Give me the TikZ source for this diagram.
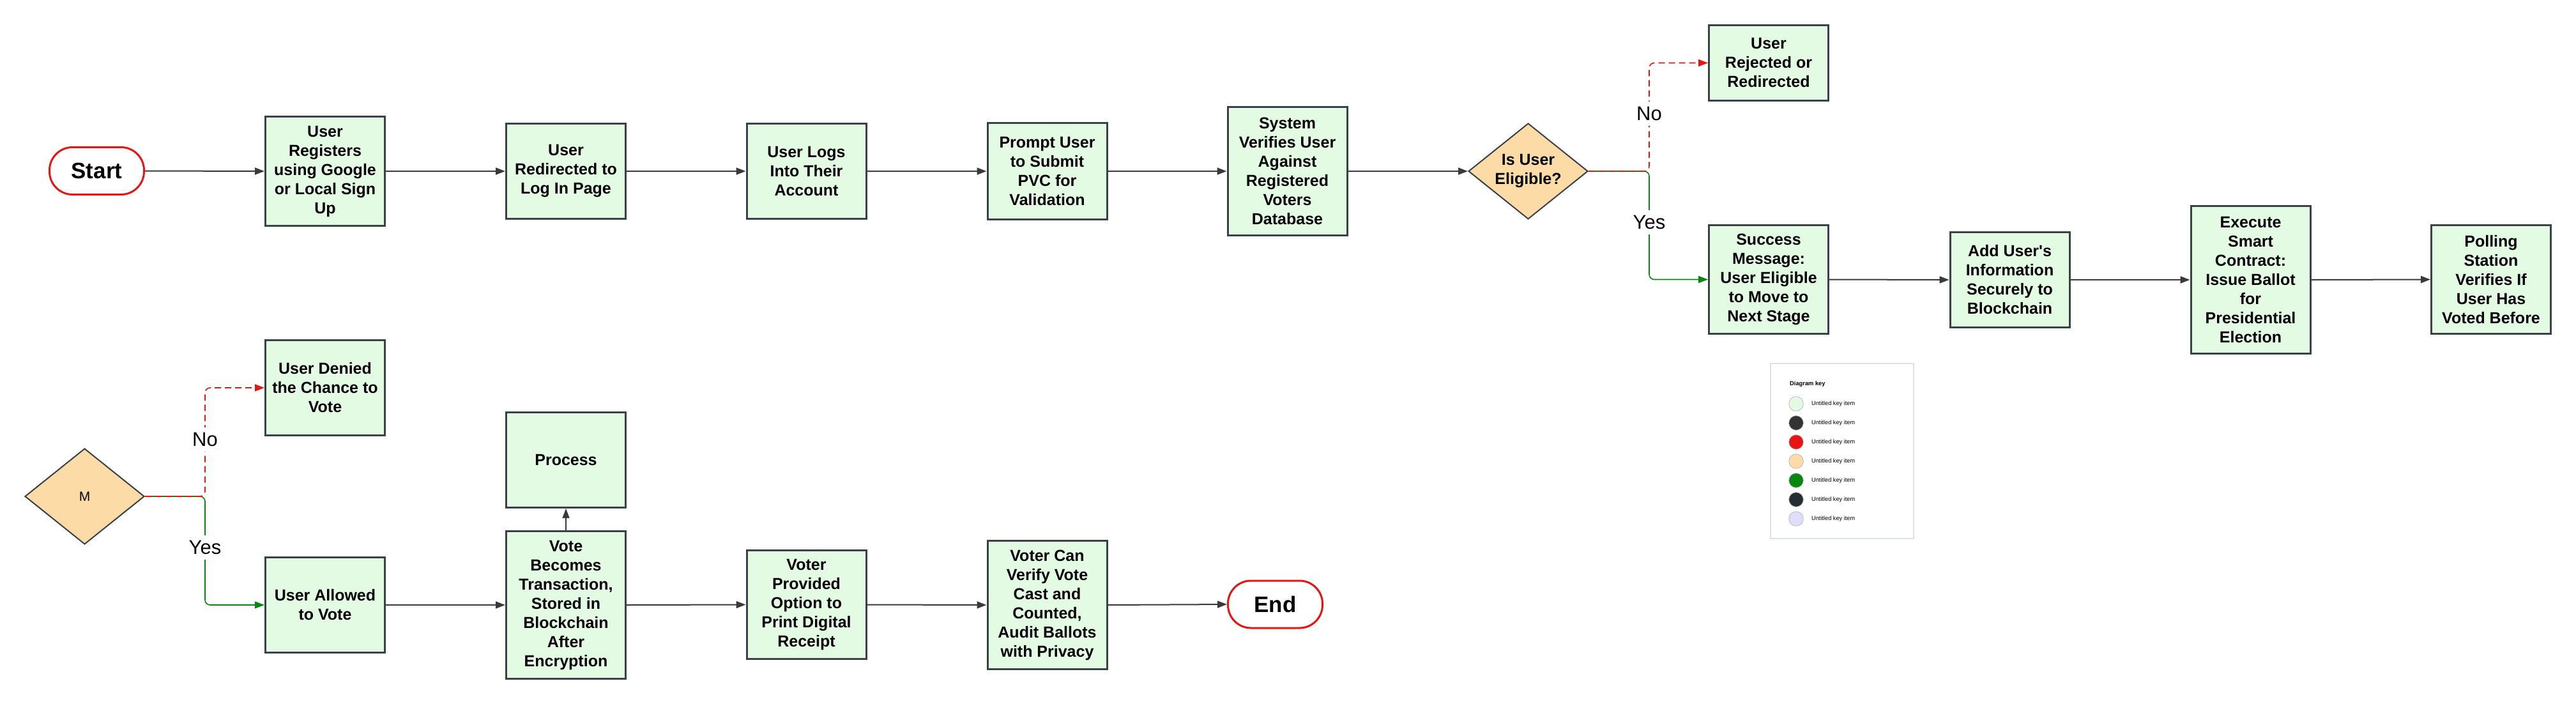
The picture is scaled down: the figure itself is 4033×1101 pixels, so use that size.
\documentclass[tikz,border=0pt]{standalone}
\usepackage{fontspec}
\setmainfont{Liberation Sans}[Ligatures=TeXOff]
\usetikzlibrary{shapes.geometric,arrows.meta}
\definecolor{boxfill}{HTML}{E3FAE3}
\definecolor{boxline}{HTML}{3A414A}
\definecolor{dfill}{HTML}{FDDBA6}
\definecolor{myred}{HTML}{E81313}
\definecolor{mygreen}{HTML}{06870F}
\definecolor{connc}{HTML}{3A3A3A}
\definecolor{keyline}{HTML}{DDE0E6}
\definecolor{kA}{HTML}{E3FAE3}
\definecolor{kB}{HTML}{333333}
\definecolor{kC}{HTML}{E81313}
\definecolor{kD}{HTML}{FDDBA6}
\definecolor{kE}{HTML}{06870F}
\definecolor{kF}{HTML}{282C33}
\definecolor{kG}{HTML}{DEDEFC}
\tikzset{
  box/.style={draw=boxline, line width=3pt, fill=boxfill, minimum width=187pt, inner sep=0pt, align=center, font=\bfseries\fontsize{25}{30}\selectfont},
  term/.style={draw=myred, line width=3pt, fill=white, rounded corners=36pt, minimum width=148pt, minimum height=74pt, inner sep=0pt, font=\bfseries\fontsize{35}{40}\selectfont},
  dia/.style={diamond, draw=boxline, line width=2pt, fill=dfill, minimum width=187pt, minimum height=150pt, inner sep=0pt},
  dtext/.style={align=center, font=\bfseries\fontsize{25}{30}\selectfont},
  conn/.style={draw=connc, line width=2pt, -{Triangle[length=15pt,width=11pt]}},
  thinconn/.style={draw=connc, line width=1.5pt, -{Triangle[length=15pt,width=11pt]}},
  nolink/.style={draw=myred, line width=1.6pt, dash pattern=on 10pt off 6pt, rounded corners=8pt, -{Triangle[length=15pt,width=11pt]}},
  yeslink/.style={draw=mygreen, line width=1.6pt, rounded corners=8pt, -{Triangle[length=15pt,width=11pt]}},
  lbl/.style={fill=white, inner xsep=2pt, inner ysep=8pt, font=\fontsize{31}{36}\selectfont},
  keytxt/.style={anchor=west, inner sep=0pt, font=\fontsize{9.2}{11}\selectfont},
  keydot/.style={circle, minimum size=22.6pt, inner sep=0pt, draw=black!30, line width=0.7pt}
}
\begin{document}
\begin{tikzpicture}[x=1pt,y=-1pt]
\useasboundingbox (0,0) rectangle (4033,1101);
\fill[white] (0,0) rectangle (4033,1101);

% top row
\node[term] (start) at (151.5,267.5) {Start};
\node[box, minimum height=171pt] (reg) at (509,268) {User\\Registers\\using Google\\or Local Sign\\Up};
\node[box, minimum height=149pt] (redir) at (886,268) {User\\Redirected to\\Log In Page};
\node[box, minimum height=149pt] (logs) at (1262.5,268) {User Logs\\Into Their\\Account};
\node[box, minimum height=151pt] (prompt) at (1639.5,268) {Prompt User\\to Submit\\PVC for\\Validation};
\node[box, minimum height=201pt] (verify) at (2015.5,268) {System\\Verifies User\\Against\\Registered\\Voters\\Database};
\node[dia] (elig) at (2392.5,268) {};
\node[dtext] (eligt) at (elig.center) {Is User\\Eligible?};
\node[box, minimum height=118pt] (rej) at (2769,98.5) {User\\Rejected or\\Redirected};
\node[box, minimum height=170pt] (succ) at (2769,437.5) {Success\\Message:\\User Eligible\\to Move to\\Next Stage};
\node[box, minimum height=149pt] (add) at (3146.5,438) {Add User's\\Information\\Securely to\\Blockchain};
\node[box, minimum height=231pt] (exec) at (3523.5,438) {Execute\\Smart\\Contract:\\Issue Ballot\\for\\Presidential\\Election};
\node[box, minimum height=170pt] (poll) at (3900,437.5) {Polling\\Station\\Verifies If\\User Has\\Voted Before};

% bottom row
\node[dia] (m) at (132.5,777) {};
\node[font=\fontsize{21}{25}\selectfont] (mt) at (m.center) {M};
\node[box, minimum height=149pt] (denied) at (509,607) {User Denied\\the Chance to\\Vote};
\node[box, minimum height=149pt] (allowed) at (509,947) {User Allowed\\to Vote};
\node[box, minimum height=149pt] (process) at (886,720) {Process};
\node[box, minimum height=231pt] (vote) at (886,947) {Vote\\Becomes\\Transaction,\\Stored in\\Blockchain\\After\\Encryption};
\node[box, minimum height=170pt] (receipt) at (1262.5,946.5) {Voter\\Provided\\Option to\\Print Digital\\Receipt};
\node[box, minimum height=201pt] (vv) at (1639.5,947) {Voter Can\\Verify Vote\\Cast and\\Counted,\\Audit Ballots\\with Privacy};
\node[term] (end) at (1996.5,946) {End};

% junctions
\coordinate (j1) at (2582,268);
\coordinate (j2) at (321,777);

% connectors top
\draw[conn] (start.east) -- (reg.west);
\draw[conn] (reg.east) -- (redir.west);
\draw[conn] (redir.east) -- (logs.west);
\draw[conn] (logs.east) -- (prompt.west);
\draw[conn] (prompt.east) -- (verify.west);
\draw[conn] (verify.east) -- (elig.west);
\draw[yeslink] (elig.east) -- (j1) |- (succ.west);
\draw[nolink] (elig.east) -- (j1) |- (rej.west);
\draw[conn] (succ.east) -- (add.west);
\draw[conn] (add.east) -- (exec.west);
\draw[conn] (exec.east) -- (poll.west);

% connectors bottom
\draw[yeslink] (m.east) -- (j2) |- (allowed.west);
\draw[nolink] (m.east) -- (j2) |- (denied.west);
\draw[conn] (allowed.east) -- (vote.west);
\draw[thinconn] (vote.north) -- (process.south);
\draw[conn] (vote.east) -- (receipt.west);
\draw[conn] (receipt.east) -- (vv.west);
\draw[conn] (vv.east) -- (end.west);

% labels
\node[lbl] (no1) at (2582,178) {No};
\node[lbl] (yes1) at (2582,348) {Yes};
\node[lbl] (no2) at (321,688) {No};
\node[lbl] (yes2) at (321,857) {Yes};

% key
\node[draw=keyline, line width=1.5pt, fill=white, minimum width=224pt, minimum height=274pt, inner sep=0pt] (key) at (2884,706) {};
\node[keytxt, font=\bfseries\fontsize{9.3}{11}\selectfont] (keyt) at (2802,601) {Diagram key};
\foreach \c [count=\i] in {kA,kB,kC,kD,kE,kF,kG}{
  \node[keydot, fill=\c] (kd\i) at (2812,602+30*\i) {};
  \node[keytxt] (kt\i) at (2836,602+30*\i) {Untitled key item};
}
\end{tikzpicture}
\end{document}
